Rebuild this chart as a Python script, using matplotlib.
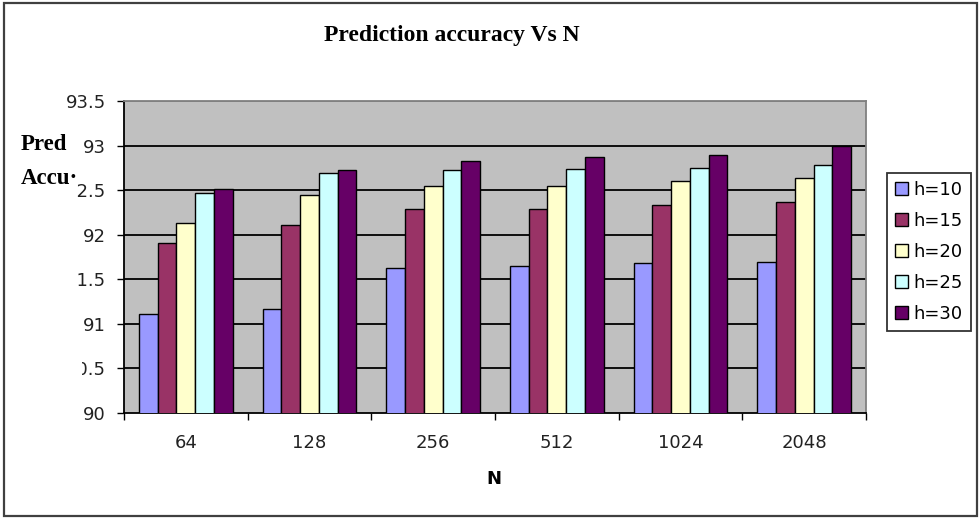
import matplotlib
matplotlib.use("Agg")
import matplotlib.pyplot as plt
import numpy as np
from matplotlib.patches import Patch, Rectangle
from matplotlib.transforms import Bbox

# prediction accuracy for each window size N and history length h
sizes = ["64", "128", "256", "512", "1024", "2048"]
series = ["h=10", "h=15", "h=20", "h=25", "h=30"]
h10 = [91.11, 91.16, 91.63, 91.65, 91.68, 91.69]
h15 = [91.90, 92.11, 92.29, 92.29, 92.33, 92.37]
h20 = [92.13, 92.44, 92.55, 92.55, 92.60, 92.63]
h25 = [92.47, 92.69, 92.72, 92.74, 92.75, 92.78]
h30 = [92.51, 92.72, 92.83, 92.87, 92.89, 93.00]
yticks = [90, 90.5, 91, 91.5, 92, 92.5, 93, 93.5]
ylabels = ["90", "90.5", "91", "91.5", "92", "92.5", "93", "93.5"]

colors = ["#9999FF", "#993366", "#FFFFCC", "#CCFFFF", "#660066"]
FS = 13

fig = plt.figure(figsize=(9.8, 5.18), dpi=100)
fig.patch.set_facecolor("white")
ax = fig.add_axes([124 / 980, 1 - 412.7 / 518, 742 / 980, 311.7 / 518])
ax.set_facecolor("#C0C0C0")

x = np.arange(len(sizes))
w = 0.152
for k, (vals, name) in enumerate(zip([h10, h15, h20, h25, h30], series)):
    ax.bar(x + (k - 2) * w, vals, width=w, color=colors[k], edgecolor="black",
           linewidth=1.0, zorder=3, label=name)

ax.set_ylim(90, 93.5)
ax.set_xlim(-0.5, len(sizes) - 0.5)
ax.set_yticks(yticks)
ax.set_yticklabels(ylabels)
for y in yticks[1:-1]:
    ax.axhline(y, color="black", lw=1.3, zorder=1)
ax.axhline(93.5, color="#808080", lw=1.3, zorder=1)

# boundary ticks between groups, labels centred under each group
ax.set_xticks(np.arange(-0.5, len(sizes)), labels=[""] * (len(sizes) + 1))
ax.set_xticks(x, labels=sizes, minor=True)
ax.tick_params(axis="x", which="major", length=5, width=1, direction="out", color="black")
ax.tick_params(axis="x", which="minor", length=0, pad=15, labelsize=FS)
ax.tick_params(axis="y", length=5, width=1, direction="out", pad=8, labelsize=FS)
for lab in ax.get_xticklabels(minor=True) + ax.get_yticklabels():
    lab.set_family("DejaVu Sans")
    lab.set_color("#222222")

ax.spines["left"].set_color("black")
ax.spines["bottom"].set_color("black")
ax.spines["top"].set_color("#808080")
ax.spines["right"].set_color("#808080")
for s in ax.spines.values():
    s.set_linewidth(1.3)

fig.text(452 / 980, 1 - 36 / 518, "Prediction accuracy Vs N", ha="center", va="center",
         family="Liberation Serif", weight="bold", fontsize=17)
fig.text(21 / 980, 1 - 145 / 518, "Pred", ha="left", va="center",
         family="Liberation Serif", weight="bold", fontsize=16.5)
fig.text(21 / 980, 1 - 178 / 518, "Accu\u00b7", ha="left", va="center",
         family="Liberation Serif", weight="bold", fontsize=16.5)
fig.text(494 / 980, 1 - 479 / 518, "N", ha="center", va="center",
         family="DejaVu Sans", weight="bold", fontsize=13)

handles = [Patch(facecolor=c, edgecolor="black", linewidth=1.0) for c in colors]
leg = fig.legend(handles, series, loc="upper left", bbox_to_anchor=(887 / 980, 1 - 173 / 518),
                 frameon=True, fancybox=False, shadow=False, prop={"family": "DejaVu Sans", "size": FS},
                 handlelength=0.7, handleheight=0.7, handletextpad=0.3, labelspacing=0.72,
                 borderpad=0.45, borderaxespad=0)
leg.get_frame().set_edgecolor("black")
leg.get_frame().set_linewidth(1.3)

# outer chart border
fig.patches.append(Rectangle((4 / 980, 2 / 518), 973 / 980, 513 / 518, transform=fig.transFigure,
                             fill=False, edgecolor="#404040", lw=1.6))

# the long labels on the value axis are cut off on their left side
fig.canvas.draw()
renderer = fig.canvas.get_renderer()
cut = {"92.5": "2.5", "91.5": "1.5", "90.5": "0.5"}
for lab in ax.get_yticklabels():
    t = lab.get_text()
    if t in cut:
        ext = lab.get_window_extent(renderer)
        tmp = fig.text(0, 0, cut[t], fontsize=FS, family="DejaVu Sans")
        vis = tmp.get_window_extent(renderer).width
        tmp.remove()
        if t == "90.5":
            vis *= 0.85
        lab.set_clip_box(Bbox([[ext.x1 - vis, ext.y0 - 2], [ext.x1 + 2, ext.y1 + 2]]))
        lab.set_clip_on(True)

fig.savefig("out.png", dpi=100)
